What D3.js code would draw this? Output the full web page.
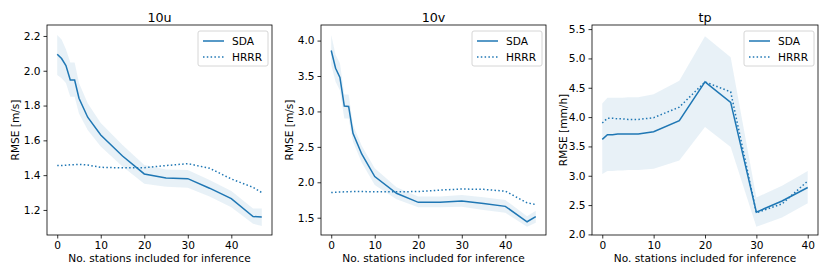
<!DOCTYPE html>
<html>
<head>
<meta charset="utf-8">
<script src="https://cdn.jsdelivr.net/npm/d3@7"></script>
<style>
  body { margin: 0; background: #fff; }
  svg { display: block; }
  text { font-family: "DejaVu Sans", sans-serif; fill: #000; }
</style>
</head>
<body>
<svg id="chart" width="830" height="277"></svg>
<script>
// ---------- data ----------
const titles = ["10u", "10v", "tp"];
const yLabels = ["RMSE [m/s]", "RMSE [m/s]", "RMSE [mm/h]"];
const xLabel = "No. stations included for inference";
const legendLabels = ["SDA", "HRRR"];

const xWind = [0, 1, 2, 3, 4, 5, 7, 10, 15, 20, 25, 30, 35, 40, 45, 47];
const xTp = [0, 1, 2, 3, 4, 5, 7, 10, 15, 20, 25, 30, 35, 40];

const sdaU   = [2.095, 2.07, 2.03, 1.947, 1.947, 1.842, 1.733, 1.631, 1.51, 1.407, 1.383, 1.38, 1.325, 1.265, 1.162, 1.16];
const sdaULo = [1.976, 1.957, 1.93, 1.85, 1.85, 1.755, 1.66, 1.564, 1.449, 1.35, 1.333, 1.327, 1.277, 1.215, 1.12, 1.108];
const sdaUHi = [2.205, 2.18, 2.123, 2.047, 2.047, 1.93, 1.813, 1.70, 1.574, 1.459, 1.432, 1.43, 1.372, 1.309, 1.208, 1.208];
const hrrrU  = [1.455, 1.455, 1.457, 1.46, 1.46, 1.462, 1.458, 1.445, 1.442, 1.443, 1.455, 1.466, 1.44, 1.378, 1.33, 1.30];

const sdaV   = [3.86, 3.61, 3.48, 3.077, 3.07, 2.69, 2.40, 2.08, 1.845, 1.717, 1.717, 1.735, 1.70, 1.66, 1.443, 1.514];
const sdaVLo = [3.656, 3.42, 3.30, 2.90, 2.90, 2.573, 2.28, 1.96, 1.76, 1.646, 1.646, 1.655, 1.61, 1.57, 1.373, 1.43];
const sdaVHi = [4.08, 3.80, 3.68, 3.24, 3.24, 2.81, 2.517, 2.197, 1.93, 1.80, 1.80, 1.82, 1.79, 1.75, 1.52, 1.60];
const hrrrV  = [1.855, 1.86, 1.863, 1.865, 1.866, 1.87, 1.87, 1.865, 1.865, 1.87, 1.89, 1.905, 1.90, 1.875, 1.71, 1.685];

const sdaTp   = [3.62, 3.70, 3.70, 3.71, 3.71, 3.71, 3.71, 3.75, 3.94, 4.60, 4.25, 2.38, 2.57, 2.80];
const sdaTpLo = [3.03, 3.08, 3.08, 3.09, 3.09, 3.10, 3.10, 3.12, 3.26, 3.83, 3.49, 2.13, 2.29, 2.53];
const sdaTpHi = [4.23, 4.33, 4.33, 4.33, 4.33, 4.34, 4.34, 4.39, 4.62, 5.38, 5.02, 2.63, 2.83, 3.08];
const hrrrTp  = [3.90, 3.98, 3.98, 3.97, 3.97, 3.96, 3.96, 3.99, 4.17, 4.60, 4.43, 2.37, 2.52, 2.91];

const xTicks = [0, 10, 20, 30, 40];
const yTicksU = [1.2, 1.4, 1.6, 1.8, 2.0, 2.2];
const yTicksV = [1.5, 2.0, 2.5, 3.0, 3.5, 4.0];
const yTicksTp = [2.0, 2.5, 3.0, 3.5, 4.0, 4.5, 5.0, 5.5];

// ---------- layout ----------
const color = "#1f77b4";
const plotTop = 25, plotBottom = 235;
const fs = 10.6;
const panels = [
  { left: 47,  right: 272, x: xWind, sda: sdaU,  lo: sdaULo,  hi: sdaUHi,  hrrr: hrrrU,  yTicks: yTicksU,  xDom: [-2.35, 49.35], yDom: [1.056, 2.263], ylx: 15 },
  { left: 321, right: 546, x: xWind, sda: sdaV,  lo: sdaVLo,  hi: sdaVHi,  hrrr: hrrrV,  yTicks: yTicksV,  xDom: [-2.35, 49.35], yDom: [1.256, 4.22],  ylx: 289 },
  { left: 592, right: 818, x: xTp,   sda: sdaTp, lo: sdaTpLo, hi: sdaTpHi, hrrr: hrrrTp, yTicks: yTicksTp, xDom: [-2, 42],       yDom: [1.99, 5.57],   ylx: 563 }
];

const svg = d3.select("#chart");

panels.forEach((p, i) => {
  const x = d3.scaleLinear().domain(p.xDom).range([p.left, p.right]);
  const y = d3.scaleLinear().domain(p.yDom).range([plotBottom, plotTop]);
  const g = svg.append("g");
  const pts = p.x.map((xv, k) => ({ x: xv, m: p.sda[k], lo: p.lo[k], hi: p.hi[k], h: p.hrrr[k] }));

  // band
  g.append("path").datum(pts)
    .attr("d", d3.area().x(d => x(d.x)).y0(d => y(d.lo)).y1(d => y(d.hi)))
    .attr("fill", color).attr("fill-opacity", 0.1).attr("stroke", "none");

  // SDA line
  g.append("path").datum(pts)
    .attr("d", d3.line().x(d => x(d.x)).y(d => y(d.m)))
    .attr("fill", "none").attr("stroke", color).attr("stroke-width", 1.5);

  // HRRR dotted
  g.append("path").datum(pts)
    .attr("d", d3.line().x(d => x(d.x)).y(d => y(d.h)))
    .attr("fill", "none").attr("stroke", color).attr("stroke-width", 1.5)
    .attr("stroke-dasharray", "1.5,2.3");

  // axes
  const xa = g.append("g").attr("transform", `translate(0,${plotBottom})`)
    .call(d3.axisBottom(x).tickValues(xTicks).tickFormat(d3.format("d")).tickSizeOuter(0).tickSize(3.5).tickPadding(3));
  const ya = g.append("g").attr("transform", `translate(${p.left},0)`)
    .call(d3.axisLeft(y).tickValues(p.yTicks).tickFormat(d3.format(".1f")).tickSizeOuter(0).tickSize(3.5).tickPadding(3));
  [xa, ya].forEach(a => {
    a.select(".domain").remove();
    a.selectAll("line").attr("stroke", "#000").attr("stroke-width", 0.8);
    a.selectAll("text").attr("font-size", fs).attr("font-family", "DejaVu Sans, sans-serif").attr("fill", "#000");
  });

  // frame
  g.append("rect").attr("x", p.left).attr("y", plotTop)
    .attr("width", p.right - p.left).attr("height", plotBottom - plotTop)
    .attr("fill", "none").attr("stroke", "#000").attr("stroke-width", 0.8);

  // title
  g.append("text").attr("x", (p.left + p.right) / 2).attr("y", 21.5)
    .attr("text-anchor", "middle").attr("font-size", 12.7).text(titles[i]);

  // x label
  g.append("text").attr("x", (p.left + p.right) / 2).attr("y", 262)
    .attr("text-anchor", "middle").attr("font-size", fs).text(xLabel);

  // y label
  g.append("text").attr("transform", `translate(${p.ylx},${(plotTop + plotBottom) / 2}) rotate(-90)`)
    .attr("text-anchor", "middle").attr("dy", "0.35em").attr("font-size", fs).text(yLabels[i]);

  // legend
  const lw = 70, lh = 35, lx = p.right - 4 - lw, ly = plotTop + 6;
  const lg = g.append("g");
  lg.append("rect").attr("x", lx).attr("y", ly).attr("width", lw).attr("height", lh)
    .attr("rx", 2).attr("fill", "#fff").attr("fill-opacity", 0.8).attr("stroke", "#ccc").attr("stroke-width", 0.8);
  legendLabels.forEach((lab, k) => {
    const yy = ly + 10 + k * 16;
    lg.append("line").attr("x1", lx + 5).attr("x2", lx + 26).attr("y1", yy).attr("y2", yy)
      .attr("stroke", color).attr("stroke-width", 1.5)
      .attr("stroke-dasharray", k === 1 ? "1.5,2.3" : null);
    lg.append("text").attr("x", lx + 34).attr("y", yy).attr("dy", "0.35em")
      .attr("font-size", fs).text(lab);
  });
});
</script>
</body>
</html>
